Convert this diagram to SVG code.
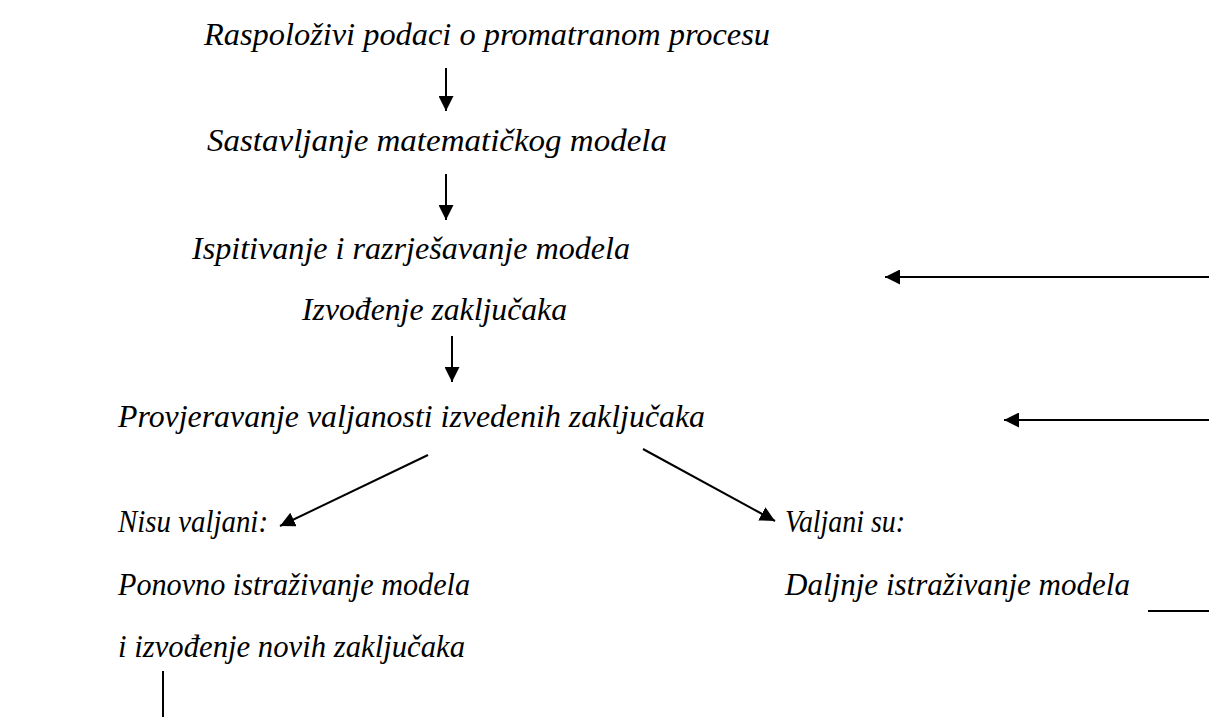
<svg xmlns="http://www.w3.org/2000/svg" width="1209" height="717" viewBox="0 0 1209 717">
<style>
text{font-family:"Liberation Serif","Times New Roman",serif;font-style:italic;font-size:32px;fill:#000}
.s{font-size:31px}
.c{stroke:#000;stroke-width:2;fill:none}
</style>
<defs>
<marker id="ah2" viewBox="0 0 10 10" refX="10" refY="5" markerWidth="7.5" markerHeight="7.5" orient="auto"><path d="M0,0L10,5L0,10z" fill="#000"/></marker>
</defs>
<rect width="1209" height="717" fill="#fff"/>
<g id="n1"><text x="204" y="45" textLength="566" lengthAdjust="spacingAndGlyphs">Raspoloživi podaci o promatranom procesu</text></g>
<g id="n2"><text x="207" y="151" textLength="460" lengthAdjust="spacingAndGlyphs">Sastavljanje matematičkog modela</text></g>
<g id="n3"><text x="192" y="259" textLength="438" lengthAdjust="spacingAndGlyphs">Ispitivanje i razrješavanje modela</text></g>
<g id="n4"><text x="302" y="320" textLength="265" lengthAdjust="spacingAndGlyphs">Izvođenje zaključaka</text></g>
<g id="n5"><text x="118" y="427" textLength="587" lengthAdjust="spacingAndGlyphs">Provjeravanje valjanosti izvedenih zaključaka</text></g>
<g id="n6"><text class="s" x="118" y="532" textLength="150" lengthAdjust="spacingAndGlyphs">Nisu valjani:</text><text class="s" x="118" y="595" textLength="352" lengthAdjust="spacingAndGlyphs">Ponovno istraživanje modela</text><text class="s" x="118" y="657" textLength="347" lengthAdjust="spacingAndGlyphs">i izvođenje novih zaključaka</text></g>
<g id="n7"><text class="s" x="785" y="532" textLength="120" lengthAdjust="spacingAndGlyphs">Valjani su:</text><text class="s" x="785" y="595" textLength="345" lengthAdjust="spacingAndGlyphs">Daljnje istraživanje modela</text></g>
<g id="connectors">
<line class="c" x1="446" y1="68" x2="446" y2="111" marker-end="url(#ah2)"/>
<line class="c" x1="446" y1="174" x2="446" y2="220" marker-end="url(#ah2)"/>
<line class="c" x1="452" y1="336" x2="452" y2="382" marker-end="url(#ah2)"/>
<line class="c" x1="1209" y1="277" x2="885" y2="277" marker-end="url(#ah2)"/>
<line class="c" x1="1209" y1="420" x2="1004" y2="420" marker-end="url(#ah2)"/>
<line class="c" x1="428" y1="455" x2="280" y2="526" marker-end="url(#ah2)"/>
<line class="c" x1="643" y1="449" x2="775" y2="521" marker-end="url(#ah2)"/>
<line class="c" x1="1148" y1="611" x2="1209" y2="611"/>
<line class="c" x1="163" y1="671" x2="163" y2="717"/>
</g>
</svg>
